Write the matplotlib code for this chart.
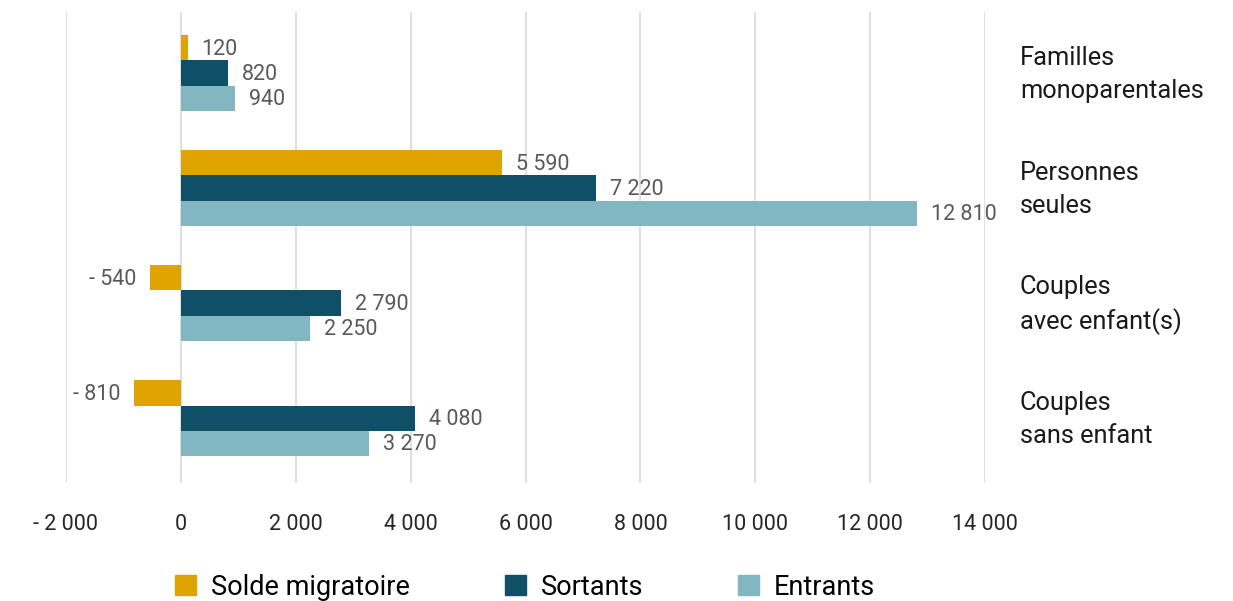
import matplotlib
matplotlib.use("Agg")
import matplotlib.pyplot as plt
import matplotlib.transforms as mtransforms
from matplotlib.patches import Patch
from matplotlib.ticker import FuncFormatter
import numpy as np

plt.rcParams['font.family'] = ['Roboto', 'DejaVu Sans']

categories = ["Familles\nmonoparentales", "Personnes\nseules",
              "Couples\navec enfant(s)", "Couples\nsans enfant"]
solde = [120, 5590, -540, -810]
sortants = [820, 7220, 2790, 4080]
entrants = [940, 12810, 2250, 3270]
series_names = ["Solde migratoire", "Sortants", "Entrants"]
colors = ["#DFA400", "#0F5068", "#82B7C1"]
xticks = list(range(-2000, 14001, 2000))


def fr(v, pos=None):
    s = f"{abs(int(v)):,}".replace(",", " ")
    return "- " + s if v < 0 else s


fig = plt.figure(figsize=(12.33, 6.01), dpi=100)
ax = fig.add_axes([0.0535, 0.196, 0.7455, 0.784])

y = np.arange(len(categories))
h = 0.22
for k, (vals, col) in enumerate(zip([solde, sortants, entrants], colors)):
    pos = y + (k - 1) * h
    ax.barh(pos, vals, height=h, color=col, zorder=3)
    for yy, v in zip(pos, vals):
        ax.annotate(fr(v), (v, yy), xytext=(10 if v >= 0 else -10, -1),
                    textcoords="offset points", va="center",
                    ha="left" if v >= 0 else "right",
                    fontsize=15.5, color="#595959")

ax.set_xlim(-2000, 14000)
ax.set_ylim(3.565, -0.53)
ax.set_xticks(xticks)
ax.xaxis.set_major_formatter(FuncFormatter(fr))
ax.tick_params(axis="x", length=0, pad=22, labelsize=15.5, labelcolor="#262626")
ax.grid(axis="x", color="#D9D9D9", lw=1.2, zorder=0)

ax.set_yticks(y)
ax.set_yticklabels(categories, fontsize=18.3, color="#1A1A1A", linespacing=1.45)
ax.yaxis.tick_right()
ax.tick_params(axis="y", length=0, pad=25)
shift = mtransforms.ScaledTranslation(0, 0.055, fig.dpi_scale_trans)
for lab in ax.get_yticklabels():
    lab.set_ha("left")
    lab.set_transform(lab.get_transform() + shift)

for s in ax.spines.values():
    s.set_visible(False)

handles = [Patch(color=c, label=n) for c, n in zip(colors, series_names)]
fig.legend(handles=handles, loc="center", bbox_to_anchor=(0.426, 0.023),
           ncol=3, frameon=False, fontsize=19.5, handlelength=0.78,
           handleheight=0.78, handletextpad=0.55, columnspacing=3.5)

fig.savefig("out.png", dpi=100)
